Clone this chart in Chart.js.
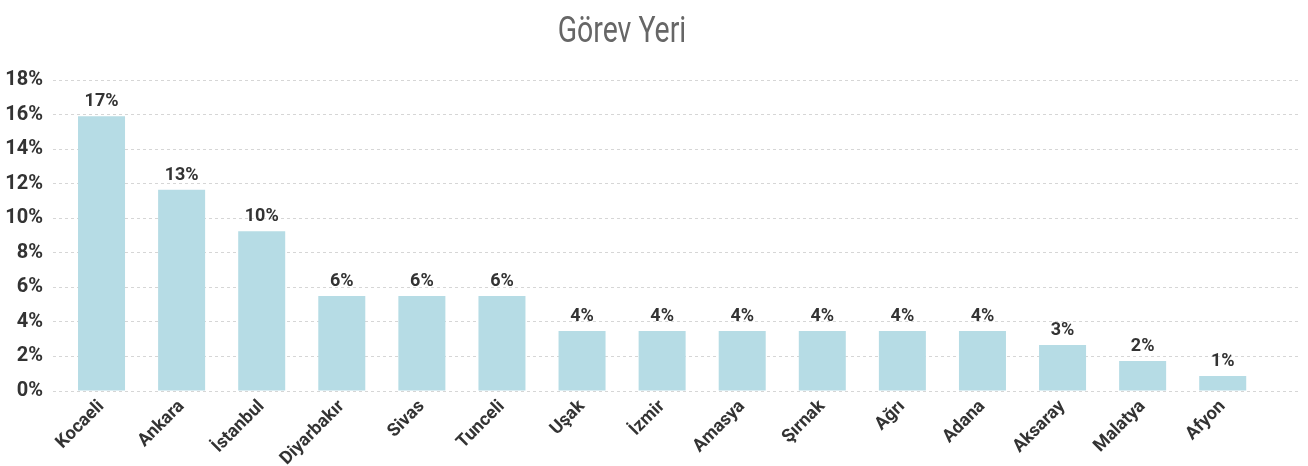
<!DOCTYPE html>
<html>
<head>
<meta charset="utf-8">
<script src="https://cdn.jsdelivr.net/npm/chart.js@4"></script>
<style>
    html, body { margin: 0; padding: 0; background: #fff; }
    #wrap { position: relative; width: 1308px; height: 466px; }
    #title {
        position: absolute; left: 0; top: 12px; width: 1244px; text-align: center;
        font-family: Roboto, sans-serif; font-size: 36px; line-height: 36px;
        color: #666; transform: scaleX(0.79); transform-origin: 622px 0;
    }
    canvas { position: absolute; left: 0; top: 0; }
</style>
</head>
<body>
<div id="wrap">
    <canvas id="chart" width="1308" height="466"></canvas>
    <div id="title">Görev Yeri</div>
</div>
<script>
// Data
const categories = ['Kocaeli', 'Ankara', 'İstanbul', 'Diyarbakır', 'Sivas', 'Tunceli', 'Uşak', 'İzmir', 'Amasya', 'Şırnak', 'Ağrı', 'Adana', 'Aksaray', 'Malatya', 'Afyon'];
const shares = [15.9, 11.65, 9.25, 5.5, 5.5, 5.5, 3.47, 3.47, 3.47, 3.47, 3.47, 3.47, 2.66, 1.74, 0.87];
const shareLabels = ['17%', '13%', '10%', '6%', '6%', '6%', '4%', '4%', '4%', '4%', '4%', '4%', '3%', '2%', '1%'];
const yTicks = [0, 2, 4, 6, 8, 10, 12, 14, 16, 18];

const FONT = "Roboto, sans-serif";

// value labels above bars
const barLabels = {
    id: 'barLabels',
    afterDatasetsDraw(chart) {
        const ctx = chart.ctx;
        const meta = chart.getDatasetMeta(0);
        ctx.save();
        ctx.font = `bold 18px ${FONT}`;
        ctx.fillStyle = '#333';
        ctx.textAlign = 'center';
        ctx.textBaseline = 'alphabetic';
        meta.data.forEach((bar, i) => {
            ctx.fillText(shareLabels[i], bar.x, bar.y - 10);
        });
        ctx.restore();
    }
};

new Chart(document.getElementById('chart'), {
    type: 'bar',
    data: {
        datasets: [{
            data: shares.map((v, i) => ({ x: i, y: v })),
            backgroundColor: '#b6dce5',
            categoryPercentage: 1,
            barPercentage: 0.587
        }]
    },
    options: {
        responsive: false,
        animation: false,
        layout: { padding: { top: 80, right: 10, left: 0, bottom: 0 } },
        plugins: { legend: { display: false }, tooltip: { enabled: false } },
        scales: {
            x: {
                type: 'linear',
                offset: false,
                min: -0.606,
                max: 14.94,
                afterBuildTicks: s => { s.ticks = categories.map((c, i) => ({ value: i })); },
                afterFit: s => { s.height = 75; s.paddingLeft = 0; s.paddingRight = 0; },
                grid: { display: false, drawTicks: false },
                border: { display: false },
                ticks: {
                    autoSkip: false,
                    maxRotation: 45,
                    minRotation: 45,
                    padding: 5,
                    color: '#333',
                    font: { family: FONT, size: 18, weight: 'bold' },
                    callback: v => categories[v]
                }
            },
            y: {
                min: yTicks[0],
                max: yTicks[yTicks.length - 1],
                afterBuildTicks: s => { s.ticks = yTicks.map(v => ({ value: v })); },
                afterFit: s => { s.width = 53; s.paddingTop = 0; s.paddingBottom = 0; },
                grid: { color: '#d6d6d6', lineWidth: 1, drawTicks: false },
                border: { display: false, dash: [3, 3] },
                ticks: {
                    padding: 10,
                    color: '#333',
                    font: { family: FONT, size: 20, weight: 'bold' },
                    callback: v => v + '%'
                }
            }
        }
    },
    plugins: [barLabels]
});
</script>
</body>
</html>
